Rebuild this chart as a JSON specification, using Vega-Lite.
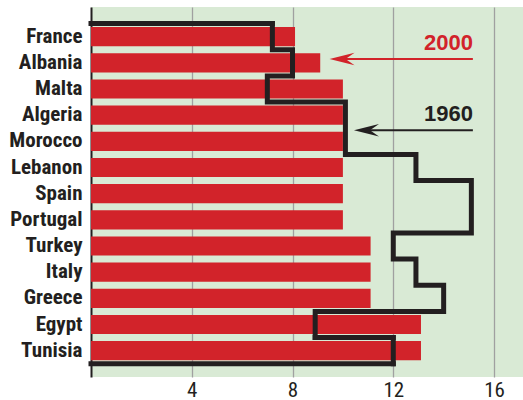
{
  "$schema": "https://vega.github.io/schema/vega-lite/v6.json",
  "width": 523,
  "height": 400,
  "autosize": {"type": "fit", "contains": "padding"},
  "padding": {"left": 8, "top": 7, "right": 0, "bottom": 0},
  "background": "white",
  "config": {
    "view": {"fill": "#d9ead5", "stroke": null},
    "axisY": {"title": null, "labelFont": "Roboto Condensed, DejaVu Sans Condensed, sans-serif", "labelFontWeight": "bold", "labelFontSize": 21, "labelColor": "#231f20", "ticks": false, "domain": true, "domainColor": "#231f20", "domainWidth": 2, "labelPadding": 9, "grid": false},
    "axisX": {"title": null, "grid": true, "gridColor": "#a0a0a0", "gridWidth": 1.3, "domain": false, "ticks": false, "labelFont": "Roboto Condensed, DejaVu Sans Condensed, sans-serif", "labelFontSize": 21, "labelColor": "#231f20", "labelPadding": 2}
  },
  "datasets": {
    "rates": [
      {"country": "France", "y2000": 8.1, "y1960": 7.2},
      {"country": "Albania", "y2000": 9.1, "y1960": 8.0},
      {"country": "Malta", "y2000": 10.0, "y1960": 7.0},
      {"country": "Algeria", "y2000": 10.0, "y1960": 10.1},
      {"country": "Morocco", "y2000": 10.0, "y1960": 10.1},
      {"country": "Lebanon", "y2000": 10.0, "y1960": 12.9},
      {"country": "Spain", "y2000": 10.0, "y1960": 15.1},
      {"country": "Portugal", "y2000": 10.0, "y1960": 15.1},
      {"country": "Turkey", "y2000": 11.1, "y1960": 12.0},
      {"country": "Italy", "y2000": 11.1, "y1960": 12.9},
      {"country": "Greece", "y2000": 11.1, "y1960": 14.0},
      {"country": "Egypt", "y2000": 13.1, "y1960": 8.9},
      {"country": "Tunisia", "y2000": 13.1, "y1960": 12.0}
    ],
    "ann": [
      {"year": "2000", "country": "Albania", "xEnd": 15.16, "xTip": 9.47, "xShaft": 9.8},
      {"year": "1960", "country": "Morocco", "xEnd": 15.16, "xTip": 10.44, "xShaft": 10.77}
    ]
  },
  "layer": [
    {
      "data": {"name": "rates"},
      "mark": {"type": "bar", "height": {"band": 0.73}, "color": "#d2232a"},
      "encoding": {
        "x": {"field": "y2000", "type": "quantitative", "scale": {"domain": [0, 17.15], "nice": false, "zero": true}, "axis": {"values": [4, 8, 12, 16]}},
        "y": {"field": "country", "type": "nominal", "sort": ["France","Albania","Malta","Algeria","Morocco","Lebanon","Spain","Portugal","Turkey","Italy","Greece","Egypt","Tunisia"],
          "scale": {"paddingInner": 0, "paddingOuter": 0.57, "align": 0.556}}
      }
    },
    {
      "data": {"name": "rates"},
      "mark": {"type": "line", "interpolate": "step-before", "color": "#231f20", "strokeWidth": 5, "strokeJoin": "miter", "strokeCap": "square"},
      "encoding": {
        "x": {"field": "y1960", "type": "quantitative"},
        "y": {"field": "country", "type": "nominal", "bandPosition": 0, "sort": ["France","Albania","Malta","Algeria","Morocco","Lebanon","Spain","Portugal","Turkey","Italy","Greece","Egypt","Tunisia"]},
        "order": {"value": null}
      }
    },
    {
      "data": {"name": "rates"},
      "transform": [{"filter": "datum.country === 'Egypt' || datum.country === 'Tunisia'"}],
      "mark": {"type": "line", "interpolate": "step-after", "color": "#231f20", "strokeWidth": 5, "strokeJoin": "miter", "strokeCap": "square"},
      "encoding": {
        "x": {"field": "y1960", "type": "quantitative"},
        "y": {"field": "country", "type": "nominal", "bandPosition": 1, "sort": ["France","Albania","Malta","Algeria","Morocco","Lebanon","Spain","Portugal","Turkey","Italy","Greece","Egypt","Tunisia"]},
        "order": {"value": null}
      }
    },
    {
      "data": {"name": "rates"},
      "transform": [{"filter": "datum.country === 'France'"}],
      "mark": {"type": "rule", "color": "#231f20", "strokeWidth": 5, "strokeCap": "square"},
      "encoding": {
        "x": {"field": "y1960", "type": "quantitative"},
        "x2": {"datum": 0},
        "y": {"field": "country", "type": "nominal", "bandPosition": 0, "sort": ["France","Albania","Malta","Algeria","Morocco","Lebanon","Spain","Portugal","Turkey","Italy","Greece","Egypt","Tunisia"]}
      }
    },
    {
      "data": {"name": "rates"},
      "transform": [{"filter": "datum.country === 'Tunisia'"}],
      "mark": {"type": "rule", "color": "#231f20", "strokeWidth": 5, "strokeCap": "square"},
      "encoding": {
        "x": {"field": "y1960", "type": "quantitative"},
        "x2": {"datum": 0},
        "y": {"field": "country", "type": "nominal", "bandPosition": 1, "sort": ["France","Albania","Malta","Algeria","Morocco","Lebanon","Spain","Portugal","Turkey","Italy","Greece","Egypt","Tunisia"]}
      }
    },
    {
      "data": {"name": "ann"},
      "transform": [{"filter": "datum.year === '2000'"}],
      "mark": {"type": "text", "align": "right", "baseline": "alphabetic", "font": "Liberation Sans", "fontWeight": "bold", "fontSize": 22, "color": "#d2232a"},
      "encoding": {"x": {"field": "xEnd", "type": "quantitative"}, "y": {"field": "country", "type": "nominal", "bandPosition": 0, "sort": ["France","Albania","Malta","Algeria","Morocco","Lebanon","Spain","Portugal","Turkey","Italy","Greece","Egypt","Tunisia"]}, "text": {"field": "year"}}
    },
    {
      "data": {"name": "ann"},
      "transform": [{"filter": "datum.year === '2000'"}],
      "mark": {"type": "rule", "color": "#d2232a", "strokeWidth": 2},
      "encoding": {"x": {"field": "xShaft", "type": "quantitative"}, "x2": {"field": "xEnd"}, "y": {"field": "country", "type": "nominal", "bandPosition": 0.35, "sort": ["France","Albania","Malta","Algeria","Morocco","Lebanon","Spain","Portugal","Turkey","Italy","Greece","Egypt","Tunisia"]}}
    },
    {
      "data": {"name": "ann"},
      "transform": [{"filter": "datum.year === '2000'"}],
      "mark": {"type": "point", "shape": "M0,0L2,-0.5L1.28,0L2,0.5Z", "size": 625, "filled": true, "opacity": 1, "color": "#d2232a", "strokeWidth": 0},
      "encoding": {"x": {"field": "xTip", "type": "quantitative"}, "y": {"field": "country", "type": "nominal", "bandPosition": 0.35, "sort": ["France","Albania","Malta","Algeria","Morocco","Lebanon","Spain","Portugal","Turkey","Italy","Greece","Egypt","Tunisia"]}}
    },
    {
      "data": {"name": "ann"},
      "transform": [{"filter": "datum.year === '1960'"}],
      "mark": {"type": "text", "align": "right", "baseline": "alphabetic", "dy": -7, "font": "Liberation Sans", "fontWeight": "bold", "fontSize": 22, "color": "#231f20"},
      "encoding": {"x": {"field": "xEnd", "type": "quantitative"}, "y": {"field": "country", "type": "nominal", "bandPosition": 0, "sort": ["France","Albania","Malta","Algeria","Morocco","Lebanon","Spain","Portugal","Turkey","Italy","Greece","Egypt","Tunisia"]}, "text": {"field": "year"}}
    },
    {
      "data": {"name": "ann"},
      "transform": [{"filter": "datum.year === '1960'"}],
      "mark": {"type": "rule", "color": "#231f20", "strokeWidth": 2},
      "encoding": {"x": {"field": "xShaft", "type": "quantitative"}, "x2": {"field": "xEnd"}, "y": {"field": "country", "type": "nominal", "bandPosition": 0.08, "sort": ["France","Albania","Malta","Algeria","Morocco","Lebanon","Spain","Portugal","Turkey","Italy","Greece","Egypt","Tunisia"]}}
    },
    {
      "data": {"name": "ann"},
      "transform": [{"filter": "datum.year === '1960'"}],
      "mark": {"type": "point", "shape": "M0,0L2,-0.5L1.28,0L2,0.5Z", "size": 625, "filled": true, "opacity": 1, "color": "#231f20", "strokeWidth": 0},
      "encoding": {"x": {"field": "xTip", "type": "quantitative"}, "y": {"field": "country", "type": "nominal", "bandPosition": 0.08, "sort": ["France","Albania","Malta","Algeria","Morocco","Lebanon","Spain","Portugal","Turkey","Italy","Greece","Egypt","Tunisia"]}}
    }
  ]
}
